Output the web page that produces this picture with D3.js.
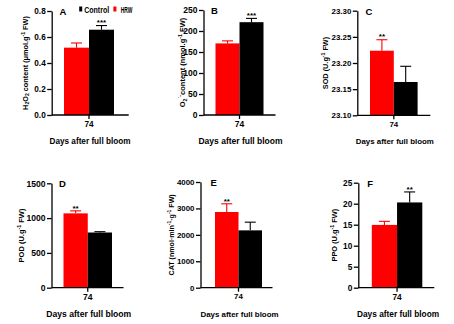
<!DOCTYPE html>
<html>
<head>
<meta charset="utf-8">
<script src="https://cdn.jsdelivr.net/npm/d3@7"></script>
<style>
  html, body { margin: 0; padding: 0; background: #fff; }
  svg { display: block; font-family: "Liberation Sans", Arial, sans-serif; }
</style>
</head>
<body>
<svg id="chart" width="454" height="324"></svg>
<script>
// ---- data ----
const days = ["74"];
const series = ["HRW", "Control"];
const seriesColors = ["#ff0000", "#000000"];

const h2o2Values = [0.518, 0.656];
const h2o2Errors = [0.036, 0.032];
const h2o2Signif = ["", "***"];
const h2o2Ticks = [0, 0.2, 0.4, 0.6, 0.8];

const o2Values = [170.5, 221];
const o2Errors = [6, 9];
const o2Signif = ["", "***"];
const o2Ticks = [0, 50, 100, 150, 200, 250];

const sodValues = [23.2235, 23.1637];
const sodErrors = [0.021, 0.030];
const sodSignif = ["**", ""];
const sodTicks = [23.10, 23.15, 23.20, 23.25, 23.30];

const podValues = [1068, 793];
const podErrors = [36, 12];
const podSignif = ["**", ""];
const podTicks = [0, 500, 1000, 1500];

const catValues = [2865, 2170];
const catErrors = [310, 310];
const catSignif = ["**", ""];
const catTicks = [0, 1000, 2000, 3000, 4000];

const ppoValues = [14.95, 20.3];
const ppoErrors = [0.85, 2.5];
const ppoSignif = ["", "**"];
const ppoTicks = [0, 5, 10, 15, 20, 25];

const xTitle = "Days after full bloom";

// y-axis titles as runs of plain / sub / sup text
const h2o2Label = [["H"], ["2", "sub"], ["O"], ["2", "sub"], [" content (\u03bcmol.g"], ["-1", "sup"], [" FW)"]];
const o2Label = [["O"], ["2", "sub"], ["\u02d9-", "sup"], ["content (nmol.g"], ["-1", "sup"], [" FW)"]];
const sodLabel = [["SOD (U.g"], ["-1", "sup"], [" FW)"]];
const podLabel = [["POD (U.g"], ["-1", "sup"], [" FW)"]];
const catLabel = [["CAT (nmol\u00b7min"], ["-1", "sup"], ["\u00b7g"], ["-1", "sup"], [" FW)"]];
const ppoLabel = [["PPO (U.g"], ["-1", "sup"], [" FW)"]];

// ---- panel layout ----
const panels = [
  { letter: "A", values: h2o2Values, errors: h2o2Errors, signif: h2o2Signif, ticks: h2o2Ticks, fmt: ".1f", label: h2o2Label,
    x0: 51.7, w: 77, top: 11, bottom: 115, barL: 12.3, barR: 62.3, labelX: 25, fs: 8.2, lfs: 7.3, legend: true },
  { letter: "B", values: o2Values, errors: o2Errors, signif: o2Signif, ticks: o2Ticks, fmt: "d", label: o2Label,
    x0: 203.5, w: 72, top: 10, bottom: 115, barL: 12, barR: 60, labelX: 182.7, fs: 8.5, lfs: 7.5 },
  { letter: "C", values: sodValues, errors: sodErrors, signif: sodSignif, ticks: sodTicks, fmt: ".2f", label: sodLabel,
    x0: 357.3, w: 73, top: 10.7, bottom: 115.3, barL: 12.7, barR: 60.3, labelX: 325, fs: 7.9, lfs: 7.3 },
  { letter: "D", values: podValues, errors: podErrors, signif: podSignif, ticks: podTicks, fmt: "d", label: podLabel,
    x0: 51.5, w: 72, top: 183.3, bottom: 287.7, barL: 12, barR: 60.5, labelX: 21, fs: 8.6, lfs: 7.5 },
  { letter: "E", values: catValues, errors: catErrors, signif: catSignif, ticks: catTicks, fmt: "d", label: catLabel,
    x0: 200.5, w: 72, top: 182, bottom: 287.7, barL: 14.5, barR: 61.5, labelX: 171.7, fs: 7.9, lfs: 7.1 },
  { letter: "F", values: ppoValues, errors: ppoErrors, signif: ppoSignif, ticks: ppoTicks, fmt: "d", label: ppoLabel,
    x0: 358.3, w: 76, top: 182.7, bottom: 287.7, barL: 13.5, barR: 64, labelX: 334.3, fs: 8.3, lfs: 7.4 }
];

const svg = d3.select("#chart");

// writes label runs as tspans; each run carries the dy needed to leave the previous shift
function addRuns(textSel, runs, size) {
  let shift = 0;
  runs.forEach(([t, kind]) => {
    const target = kind === "sub" ? size * 0.25 : kind === "sup" ? -size * 0.4 : 0;
    const ts = textSel.append("tspan").text(t).attr("dy", target - shift);
    if (kind) ts.attr("font-size", size * 0.7);
    shift = target;
  });
}

panels.forEach(p => {
  const g = svg.append("g").attr("transform", `translate(${p.x0},0)`);
  const lo = p.ticks[0], hi = p.ticks[p.ticks.length - 1];
  const y = d3.scaleLinear().domain([lo, hi]).range([p.bottom, p.top]);

  // outer band for the day group, inner band for the two series
  const x0 = d3.scaleBand().domain(days).range([p.barL, p.barR]).padding(0);
  const x1 = d3.scaleBand().domain(series).range([0, x0.bandwidth()]).padding(0);

  const rows = series.map((s, i) => ({ s, i, v: p.values[i], e: p.errors[i], sig: p.signif[i] }));
  const grp = g.append("g").attr("transform", `translate(${x0(days[0])},0)`);

  // bars
  grp.selectAll("rect").data(rows).join("rect")
    .attr("x", d => x1(d.s))
    .attr("y", d => y(d.v))
    .attr("width", x1.bandwidth())
    .attr("height", d => y(lo) - y(d.v))
    .attr("fill", d => seriesColors[d.i]);

  // upper error bars
  const capHalf = 5.5;
  grp.selectAll("line.err").data(rows).join("line").attr("class", "err")
    .attr("x1", d => x1(d.s) + x1.bandwidth() / 2)
    .attr("x2", d => x1(d.s) + x1.bandwidth() / 2)
    .attr("y1", d => y(d.v)).attr("y2", d => y(d.v + d.e))
    .attr("stroke", d => seriesColors[d.i]).attr("stroke-width", 1.1);
  grp.selectAll("line.cap").data(rows).join("line").attr("class", "cap")
    .attr("x1", d => x1(d.s) + x1.bandwidth() / 2 - capHalf)
    .attr("x2", d => x1(d.s) + x1.bandwidth() / 2 + capHalf)
    .attr("y1", d => y(d.v + d.e)).attr("y2", d => y(d.v + d.e))
    .attr("stroke", d => seriesColors[d.i]).attr("stroke-width", 1.1);

  // significance marks
  grp.selectAll("text.sig").data(rows.filter(d => d.sig)).join("text").attr("class", "sig")
    .attr("x", d => x1(d.s) + x1.bandwidth() / 2)
    .attr("y", d => y(d.v + d.e) - 0.3)
    .attr("text-anchor", "middle")
    .attr("font-size", 8).attr("font-weight", "bold")
    .text(d => d.sig);

  // y axis
  const yAxis = g.append("g")
    .call(d3.axisLeft(y).tickValues(p.ticks).tickFormat(d3.format(p.fmt)).tickSize(4.5).tickSizeOuter(0).tickPadding(1.5));
  yAxis.select(".domain").attr("stroke-width", 1.3);
  yAxis.selectAll(".tick line").attr("stroke-width", 1.3);
  yAxis.selectAll("text").attr("font-size", p.fs).attr("font-weight", "bold").attr("fill", "#000");

  // x axis: baseline spans the full plot width
  g.append("line").attr("x1", 0).attr("x2", p.w).attr("y1", p.bottom).attr("y2", p.bottom)
    .attr("stroke", "#000").attr("stroke-width", 1.3);
  const xAxis = g.append("g").attr("transform", `translate(0,${p.bottom})`)
    .call(d3.axisBottom(x0).tickSize(4).tickSizeOuter(0).tickPadding(2));
  xAxis.select(".domain").remove();
  xAxis.selectAll(".tick line").attr("stroke-width", 1.3);
  xAxis.selectAll("text").attr("font-size", p.fs).attr("font-weight", "bold").attr("fill", "#000");

  // x title
  g.append("text")
    .attr("x", x0(days[0]) + x0.bandwidth() / 2 + 1)
    .attr("y", p.bottom + 29)
    .attr("text-anchor", "middle")
    .attr("font-size", p.fs).attr("font-weight", "bold")
    .text(xTitle);

  // y title
  const yt = svg.append("text")
    .attr("transform", `translate(${p.labelX + 2.5},${(p.top + p.bottom) / 2}) rotate(-90)`)
    .attr("text-anchor", "middle")
    .attr("font-size", p.lfs).attr("font-weight", "bold");
  addRuns(yt, p.label, p.lfs);

  // panel letter
  g.append("text").attr("x", p.barL - 4.5).attr("y", p.top + 4)
    .attr("font-size", 9.5).attr("font-weight", "bold").text(p.letter);

  // legend
  if (p.legend) {
    const legendItems = [
      { name: series[1], color: seriesColors[1], x: 27.5, tx: 32.5, tw: 25 },
      { name: series[0], color: seriesColors[0], x: 61.7, tx: 69, tw: 11.6 }
    ];
    const lg = g.append("g");
    lg.selectAll("rect").data(legendItems).join("rect")
      .attr("x", d => d.x).attr("y", 6.5).attr("width", 3).attr("height", 5)
      .attr("fill", d => d.color);
    lg.selectAll("text").data(legendItems).join("text")
      .attr("x", d => d.tx).attr("y", 12.5)
      .attr("font-size", 8.6).attr("font-weight", "bold")
      .attr("textLength", d => d.tw).attr("lengthAdjust", "spacingAndGlyphs")
      .text(d => d.name);
  }
});
</script>
</body>
</html>
